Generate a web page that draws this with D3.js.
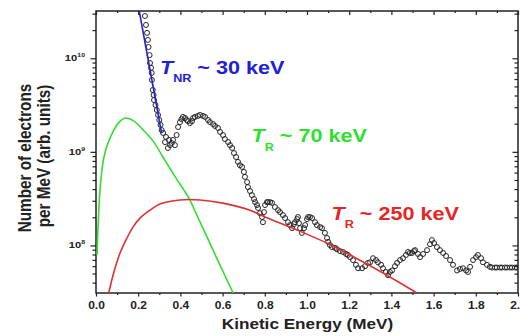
<!DOCTYPE html>
<html>
<head>
<meta charset="utf-8">
<script src="https://cdn.jsdelivr.net/npm/d3@7"></script>
<style>
  html, body { margin: 0; padding: 0; background: #fff; }
  svg { display: block; }
  text { font-family: "Liberation Sans", Arial, sans-serif; font-weight: bold; white-space: pre; }
</style>
</head>
<body>
<svg id="chart" width="520" height="336"></svg>
<script>
// Measured electron spectrum (open circles): energy in MeV, counts per MeV
const energy = [
  0.232, 0.237, 0.242, 0.246, 0.249, 0.254, 0.256, 0.261, 0.264, 0.265,
  0.269, 0.273, 0.275, 0.282, 0.288, 0.294, 0.300, 0.306, 0.311,
  0.318, 0.327, 0.332, 0.341, 0.346, 0.351, 0.359, 0.365, 0.374, 0.382,
  0.389, 0.398, 0.405, 0.412, 0.422, 0.430, 0.436, 0.445, 0.455, 0.460,
  0.469, 0.483, 0.493, 0.507, 0.517, 0.531, 0.540, 0.555, 0.564, 0.578,
  0.588, 0.602, 0.611, 0.626, 0.635, 0.645, 0.654, 0.664, 0.673, 0.682,
  0.692, 0.701, 0.706, 0.716, 0.720, 0.730, 0.739, 0.749, 0.754, 0.763,
  0.768, 0.777, 0.787, 0.791, 0.796, 0.801, 0.810, 0.815, 0.825, 0.834,
  0.848, 0.863, 0.872, 0.886, 0.896, 0.910, 0.919, 0.929, 0.938, 0.943,
  0.953, 0.957, 0.962, 0.967, 0.976, 0.986, 0.991, 1.000, 1.005, 1.014,
  1.024, 1.038, 1.047, 1.062, 1.071, 1.085, 1.095, 1.100, 1.109, 1.118,
  1.133, 1.142, 1.156, 1.171, 1.185, 1.194, 1.204, 1.218, 1.232, 1.242,
  1.261, 1.275, 1.289, 1.299, 1.313, 1.327, 1.336, 1.351, 1.360, 1.374,
  1.384, 1.393, 1.403, 1.417, 1.427, 1.441, 1.455, 1.469, 1.479, 1.488,
  1.498, 1.507, 1.512, 1.526, 1.536, 1.550, 1.569, 1.583, 1.592, 1.602,
  1.616, 1.630, 1.645, 1.659, 1.678, 1.692, 1.711, 1.725, 1.739, 1.754,
  1.763, 1.773, 1.787, 1.801, 1.810, 1.825, 1.834, 1.853, 1.867, 1.877,
  1.891, 1.900, 1.915, 1.924, 1.938, 1.948, 1.962, 1.972, 1.986, 1.995
];
const counts = [
  2.83e10, 2.27e10, 1.87e10, 1.57e10, 1.32e10, 1.08e10, 8.9e9, 7.9e9, 6.97e9, 5.86e9,
  4.58e9, 4.05e9, 3.58e9, 3.16e9, 2.80e9, 2.48e9, 2.19e9, 1.94e9, 1.71e9,
  1.59e9, 1.27e9, 1.44e9, 1.10e9, 1.34e9, 1.18e9, 1.24e9, 1.34e9, 1.18e9, 1.51e9,
  1.84e9, 2.08e9, 2.24e9, 2.36e9, 2.30e9, 2.19e9, 2.13e9, 2.03e9, 2.13e9, 2.30e9,
  2.36e9, 2.42e9, 2.48e9, 2.42e9, 2.36e9, 2.19e9, 2.08e9, 1.98e9, 1.89e9, 1.80e9,
  1.63e9, 1.51e9, 1.37e9, 1.27e9, 1.18e9, 1.10e9, 9.7e8, 8.8e8, 7.8e8, 7.2e8,
  6.9e8, 6.1e8, 5.4e8, 4.75e8, 4.2e8, 3.81e8, 3.45e8, 3.13e8, 2.90e8, 2.70e8,
  2.51e8, 2.21e8, 2.01e8, 1.77e8, 2.27e8, 2.70e8, 2.90e8, 2.90e8, 2.90e8, 2.85e8,
  2.57e8, 2.38e8, 2.27e8, 2.11e8, 1.96e8, 1.77e8, 1.65e8, 1.53e8, 1.69e8, 1.77e8,
  1.91e8, 2.01e8, 1.73e8, 1.53e8, 1.36e8, 1.53e8, 1.65e8, 1.91e8, 2.01e8, 2.01e8,
  1.96e8, 1.77e8, 1.65e8, 1.57e8, 1.53e8, 1.36e8, 1.20e8, 1.09e8, 1.01e8, 9.6e7,
  9.4e7, 9.1e7, 8.7e7, 8.5e7, 8.1e7, 7.9e7, 7.5e7, 6.97e7, 6.2e7, 5.7e7,
  5.7e7, 6.0e7, 6.5e7, 6.6e7, 7.3e7, 6.97e7, 6.6e7, 6.2e7, 5.7e7, 5.2e7,
  4.8e7, 5.2e7, 5.4e7, 6.0e7, 6.5e7, 6.97e7, 7.3e7, 7.9e7, 8.5e7, 8.3e7,
  8.3e7, 8.7e7, 8.9e7, 8.1e7, 7.5e7, 8.1e7, 8.9e7, 1.03e8, 1.14e8, 1.06e8,
  9.6e7, 8.9e7, 8.3e7, 7.7e7, 6.97e7, 6.2e7, 5.4e7, 5.6e7, 5.7e7, 5.4e7,
  5.2e7, 5.9e7, 6.97e7, 7.5e7, 7.9e7, 7.3e7, 6.6e7, 6.2e7, 5.9e7, 5.8e7,
  5.8e7, 5.8e7, 5.8e7, 5.8e7, 5.8e7, 5.8e7, 5.8e7, 5.8e7, 5.8e7, 5.8e7
];

// Fit: non-relativistic Maxwellian, T_NR ~ 30 keV (blue)
const blueEnergy = [0.205, 0.311];
const blueCounts = [3.2e10, 1.58e9];

// Fit: relativistic Maxwellian, T_R ~ 70 keV (green)
const greenEnergy = [0.005, 0.01, 0.02, 0.035, 0.05, 0.08, 0.11, 0.14, 0.18, 0.22, 0.27, 0.32, 0.38, 0.44, 0.48, 0.52, 0.58, 0.65];
const greenCounts = [7.9e7, 1.65e8, 4.2e8, 8.2e8, 1.12e9, 1.63e9, 2.08e9, 2.30e9, 2.13e9, 1.75e9, 1.31e9, 8.6e8, 5.2e8, 3.2e8, 2.06e8, 1.32e8, 6.7e7, 3.1e7];

// Fit: relativistic Maxwellian, T_R ~ 250 keV (red)
const redEnergy = [0.060, 0.085, 0.114, 0.147, 0.175, 0.209, 0.256, 0.303, 0.398, 0.493, 0.602, 0.730, 0.801, 0.953, 1.114, 1.242, 1.393, 1.521];
const redCounts = [3.09e7, 5.2e7, 8.3e7, 1.20e8, 1.57e8, 1.96e8, 2.38e8, 2.77e8, 3.06e8, 3.06e8, 2.83e8, 2.38e8, 2.01e8, 1.46e8, 1.01e8, 7.1e7, 4.6e7, 3.1e7];

// Axis ticks
const xTicks = [0, 0.2, 0.4, 0.6, 0.8, 1.0, 1.2, 1.4, 1.6, 1.8, 2.0];
const xMinorTicks = [0.1, 0.3, 0.5, 0.7, 0.9, 1.1, 1.3, 1.5, 1.7, 1.9];
const yDecades = [8, 9, 10];

const svg = d3.select('#chart');
const ink = '#222';
const stretch = 'scale(1.2,1)'; // the original figure is drawn horizontally stretched

// Plot area
const x = d3.scaleLinear().domain([0, 2]).range([96, 518]);
const y = d3.scaleLog().domain([3.1e7, 3.2e10]).range([293, 11]);

// Minor log ticks (2..9 x 10^k) inside the domain
const yMinorTicks = [];
[7, 8, 9, 10].forEach(k => {
  for (let m = 2; m <= 9; m++) {
    const v = m * Math.pow(10, k);
    if (v >= y.domain()[0] && v <= y.domain()[1]) yMinorTicks.push(v);
  }
});
const yMajorTicks = yDecades.map(k => Math.pow(10, k));

function styleAxis(g) {
  g.select('.domain').remove();
  g.selectAll('line').attr('stroke', ink).attr('stroke-width', 1.2);
}

// Bottom axis (ticks outward) with labels
svg.append('g')
  .attr('transform', `translate(0,${y.range()[0]})`)
  .call(d3.axisBottom(x).tickValues(xTicks).tickSize(3.5).tickPadding(5).tickFormat(d3.format('.1f')))
  .call(styleAxis)
  .call(g => g.selectAll('text')
    .attr('font-size', 10)
    .attr('fill', ink)
    .attr('font-family', '"Liberation Sans", Arial, sans-serif')
    .attr('transform', stretch));
svg.append('g')
  .attr('transform', `translate(0,${y.range()[0]})`)
  .call(d3.axisBottom(x).tickValues(xMinorTicks).tickSize(2).tickFormat(''))
  .call(styleAxis);

// Top axis (ticks inward)
svg.append('g')
  .attr('transform', `translate(0,${y.range()[1]})`)
  .call(d3.axisTop(x).tickValues(xTicks).tickSize(-4).tickFormat(''))
  .call(styleAxis);
svg.append('g')
  .attr('transform', `translate(0,${y.range()[1]})`)
  .call(d3.axisTop(x).tickValues(xMinorTicks).tickSize(-2).tickFormat(''))
  .call(styleAxis);

// Left axis (ticks outward)
svg.append('g')
  .attr('transform', `translate(${x.range()[0]},0)`)
  .call(d3.axisLeft(y).tickValues(yMajorTicks).tickSize(5.5).tickFormat(''))
  .call(styleAxis);
svg.append('g')
  .attr('transform', `translate(${x.range()[0]},0)`)
  .call(d3.axisLeft(y).tickValues(yMinorTicks).tickSize(3.5).tickFormat(''))
  .call(styleAxis);

// Right axis (ticks inward)
svg.append('g')
  .attr('transform', `translate(${x.range()[1]},0)`)
  .call(d3.axisRight(y).tickValues(yMajorTicks).tickSize(-5.5).tickFormat(''))
  .call(styleAxis);
svg.append('g')
  .attr('transform', `translate(${x.range()[1]},0)`)
  .call(d3.axisRight(y).tickValues(yMinorTicks).tickSize(-3.5).tickFormat(''))
  .call(styleAxis);

// Y tick labels: 10^k
yDecades.forEach(k => {
  const t = svg.append('text')
    .attr('transform', `translate(85,${y(Math.pow(10, k)) + 2.8}) ${stretch}`)
    .attr('text-anchor', 'end')
    .attr('font-size', 9.3)
    .attr('fill', ink);
  t.append('tspan').text('10');
  t.append('tspan').attr('dy', -4).attr('font-size', 5.8).text(String(k));
});

// Frame
svg.append('rect')
  .attr('x', x.range()[0])
  .attr('y', y.range()[1])
  .attr('width', x.range()[1] - x.range()[0])
  .attr('height', y.range()[0] - y.range()[1])
  .attr('fill', 'none')
  .attr('stroke', ink)
  .attr('stroke-width', 1.5);

// Clip everything data-related to the frame
svg.append('clipPath').attr('id', 'plot-clip')
  .append('rect')
  .attr('x', x.range()[0])
  .attr('y', y.range()[1])
  .attr('width', x.range()[1] - x.range()[0])
  .attr('height', y.range()[0] - y.range()[1]);
const plot = svg.append('g').attr('clip-path', 'url(#plot-clip)');

// Measured points
plot.selectAll('circle')
  .data(d3.zip(energy, counts))
  .enter()
  .append('circle')
  .attr('cx', d => x(d[0]))
  .attr('cy', d => y(d[1]))
  .attr('r', 2.5)
  .attr('fill', 'none')
  .attr('stroke', '#262626')
  .attr('stroke-width', 1);

// Fit curves
const line = d3.line()
  .x(d => x(d[0]))
  .y(d => y(d[1]))
  .curve(d3.curveCatmullRom.alpha(0.5));

const fits = [
  { e: greenEnergy, n: greenCounts, color: '#33dd33' },
  { e: redEnergy, n: redCounts, color: '#e03131' },
  { e: blueEnergy, n: blueCounts, color: '#2323c8' },
];
fits.forEach(f => {
  plot.append('path')
    .datum(d3.zip(f.e, f.n))
    .attr('d', line)
    .attr('fill', 'none')
    .attr('stroke', f.color)
    .attr('stroke-width', 1.6);
});

// Temperature annotations
function tempLabel(px, py, sub, rest, color, subDy) {
  const t = svg.append('text')
    .attr('transform', `translate(${px},${py}) ${stretch}`)
    .attr('font-size', 18)
    .attr('fill', color);
  t.append('tspan').attr('font-style', 'italic').text('T');
  t.append('tspan').attr('font-size', 10.5).attr('dy', subDy).text(sub);
  t.append('tspan').attr('dy', -subDy).text(' ~ ' + rest);
}
tempLabel(160, 73.5, 'NR', '30 keV', '#2020dc', 8.5);
tempLabel(251.5, 142, 'R', '70 keV', '#2ee02e', 9);
tempLabel(331.5, 220, 'R', '250 keV', '#e82424', 8);

// Axis titles
svg.append('text')
  .attr('transform', `translate(307.5,329) ${stretch}`)
  .attr('text-anchor', 'middle')
  .attr('font-size', 14.3)
  .attr('fill', ink)
  .text('Kinetic Energy (MeV)');

svg.append('text')
  .attr('transform', `translate(31,158) ${stretch} rotate(-90)`)
  .attr('text-anchor', 'middle')
  .attr('font-size', 15.3)
  .attr('fill', ink)
  .text('Number of electrons');
svg.append('text')
  .attr('transform', `translate(49.5,156) ${stretch} rotate(-90)`)
  .attr('text-anchor', 'middle')
  .attr('font-size', 15.3)
  .attr('fill', ink)
  .text('per MeV (arb. units)');
</script>
</body>
</html>
